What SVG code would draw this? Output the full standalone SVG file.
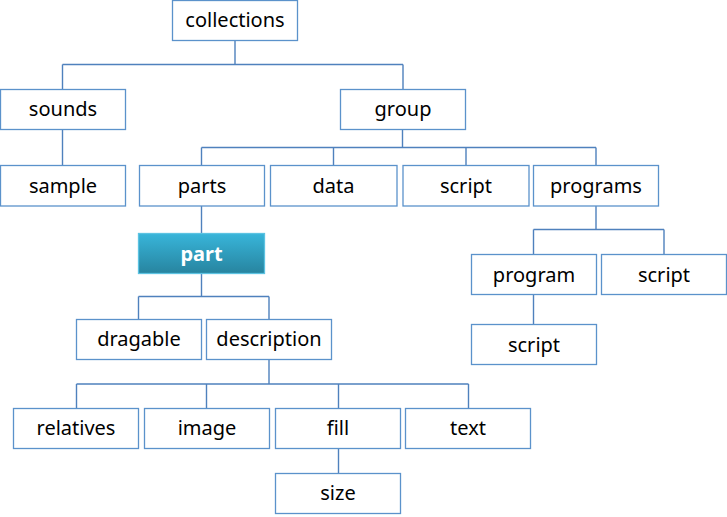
<svg xmlns="http://www.w3.org/2000/svg" width="727" height="517" viewBox="0 0 727 517">
<defs>
<linearGradient id="partGrad" x1="0" y1="0" x2="0" y2="1">
<stop offset="0" stop-color="#38B5DA"/>
<stop offset="1" stop-color="#27849F"/>
</linearGradient>
<style>
.box{fill:#FFFFFF;stroke:#5B92CB;stroke-width:1.3}
.lbl{font-family:"Noto Sans","Open Sans","DejaVu Sans",sans-serif;font-size:20px;fill:#000000;text-anchor:middle}
.conn{fill:none;stroke:#4F81BD;stroke-width:1.4}
.hl{fill:url(#partGrad);stroke:#5CC3E2;stroke-width:1.3}
.hlt{font-family:"Noto Sans","Open Sans","DejaVu Sans",sans-serif;font-size:20px;font-weight:bold;fill:#FFFFFF;text-anchor:middle}
</style>
</defs>
<rect width="727" height="517" fill="#FFFFFF"/>
<g id="connectors">
<path class="conn" d="M235,40.5 V64.5 M62.5,64.5 H403 M62.5,64.5 V89.5 M403,64.5 V89.5"/>
<path class="conn" d="M62.5,129.5 V165.5"/>
<path class="conn" d="M402.5,129.5 V147.5 M201.5,147.5 H596 M201.5,147.5 V165.5 M333.5,147.5 V165.5 M466,147.5 V165.5 M596,147.5 V165.5"/>
<path class="conn" d="M201.5,206 V233.5"/>
<path class="conn" d="M596,206 V229.5 M533.5,229.5 H664 M533.5,229.5 V254.5 M664,229.5 V254.5"/>
<path class="conn" d="M533.5,294.5 V324.5"/>
<path class="conn" d="M201.5,273.5 V296.5 M138.5,296.5 H269 M138.5,296.5 V319.5 M269,296.5 V319.5"/>
<path class="conn" d="M269,359.5 V384 M76.5,384 H468.5 M76.5,384 V408.5 M206.5,384 V408.5 M338.5,384 V408.5 M468.5,384 V408.5"/>
<path class="conn" d="M338.5,448.5 V473.5"/>
</g>
<g id="collections"><rect class="box" x="172.5" y="0.5" width="125" height="40"/><text class="lbl" x="235" y="27">collections</text></g>
<g id="sounds"><rect class="box" x="0.5" y="89.5" width="125" height="40"/><text class="lbl" x="63" y="116">sounds</text></g>
<g id="group"><rect class="box" x="340.5" y="89.5" width="125" height="40"/><text class="lbl" x="403" y="116">group</text></g>
<g id="sample"><rect class="box" x="0.5" y="165.5" width="125" height="40.5"/><text class="lbl" x="63" y="192.5">sample</text></g>
<g id="parts"><rect class="box" x="139.5" y="165.5" width="125" height="40.5"/><text class="lbl" x="202" y="192.5">parts</text></g>
<g id="data"><rect class="box" x="270.5" y="165.5" width="126.5" height="40.5"/><text class="lbl" x="333.5" y="192.5">data</text></g>
<g id="script1"><rect class="box" x="403" y="165.5" width="126" height="40.5"/><text class="lbl" x="466" y="192.5">script</text></g>
<g id="programs"><rect class="box" x="533.5" y="165.5" width="125" height="40.5"/><text class="lbl" x="596" y="192.5">programs</text></g>
<g id="part"><rect class="hl" x="138.5" y="233.5" width="126" height="40"/><text class="hlt" x="201.5" y="260.5">part</text></g>
<g id="program"><rect class="box" x="471.5" y="254.5" width="125" height="40"/><text class="lbl" x="534" y="281.5">program</text></g>
<g id="script2"><rect class="box" x="601.5" y="254.5" width="125" height="40"/><text class="lbl" x="664" y="281.5">script</text></g>
<g id="script3"><rect class="box" x="471.5" y="324.5" width="125" height="40"/><text class="lbl" x="534" y="351.5">script</text></g>
<g id="dragable"><rect class="box" x="76.5" y="319.5" width="125" height="40"/><text class="lbl" x="139" y="346">dragable</text></g>
<g id="description"><rect class="box" x="206.5" y="319.5" width="125" height="40"/><text class="lbl" x="269" y="346">description</text></g>
<g id="relatives"><rect class="box" x="13.5" y="408.5" width="125" height="40"/><text class="lbl" x="76" y="435">relatives</text></g>
<g id="image"><rect class="box" x="144.5" y="408.5" width="125" height="40"/><text class="lbl" x="207" y="435">image</text></g>
<g id="fill"><rect class="box" x="275.5" y="408.5" width="125" height="40"/><text class="lbl" x="338" y="435">fill</text></g>
<g id="text"><rect class="box" x="405.5" y="408.5" width="125" height="40"/><text class="lbl" x="468" y="435">text</text></g>
<g id="size"><rect class="box" x="275.5" y="473.5" width="125" height="40"/><text class="lbl" x="338" y="500">size</text></g>
</svg>
